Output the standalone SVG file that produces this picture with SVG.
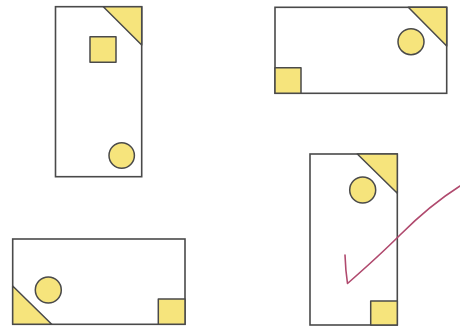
<svg xmlns="http://www.w3.org/2000/svg" width="460" height="329" viewBox="0 0 460 329">
<style>
.frame{fill:#fff;stroke:#4a4a4a;stroke-width:1.6}
.y{fill:#f6e47c;stroke:#4a4a4a;stroke-width:1.5;stroke-linejoin:round}
.tick{fill:none;stroke:#b04a6e;stroke-width:1.6;stroke-linecap:round;stroke-linejoin:round}
</style>
<rect width="460" height="329" fill="#fff"/>
<g id="card1">
<rect class="frame" x="55.5" y="6.7" width="86.2" height="170"/>
<polygon class="y" points="103.3,6.7 141.7,6.7 141.7,45"/>
<rect class="y" x="90" y="36.7" width="26" height="25.6"/>
<circle class="y" cx="121.7" cy="155.5" r="12.7"/>
</g>
<g id="card2">
<rect class="frame" x="275" y="7.3" width="171.7" height="86"/>
<polygon class="y" points="408.3,7.3 446.7,7.3 446.7,46"/>
<circle class="y" cx="411" cy="41.7" r="13"/>
<rect class="y" x="275" y="67.7" width="26" height="25.6"/>
</g>
<g id="card3">
<rect class="frame" x="12.7" y="239" width="172.3" height="85.3"/>
<polygon class="y" points="12.7,286 12.7,324.3 51.7,324.3"/>
<circle class="y" cx="48.3" cy="290" r="13"/>
<rect class="y" x="158.3" y="299" width="26.7" height="25.3"/>
</g>
<g id="card4">
<rect class="frame" x="310" y="154" width="87.3" height="171"/>
<polygon class="y" points="357.3,154 397.3,154 397.3,193.3"/>
<circle class="y" cx="362.7" cy="190" r="13"/>
<rect class="y" x="370.7" y="301" width="26.6" height="24"/>
</g>
<g id="connectors">
<path class="tick" d="M345,255 Q345.5,270 347.5,283.5 Q380,255 400,235 Q430,205 460,186"/>
</g>
</svg>
